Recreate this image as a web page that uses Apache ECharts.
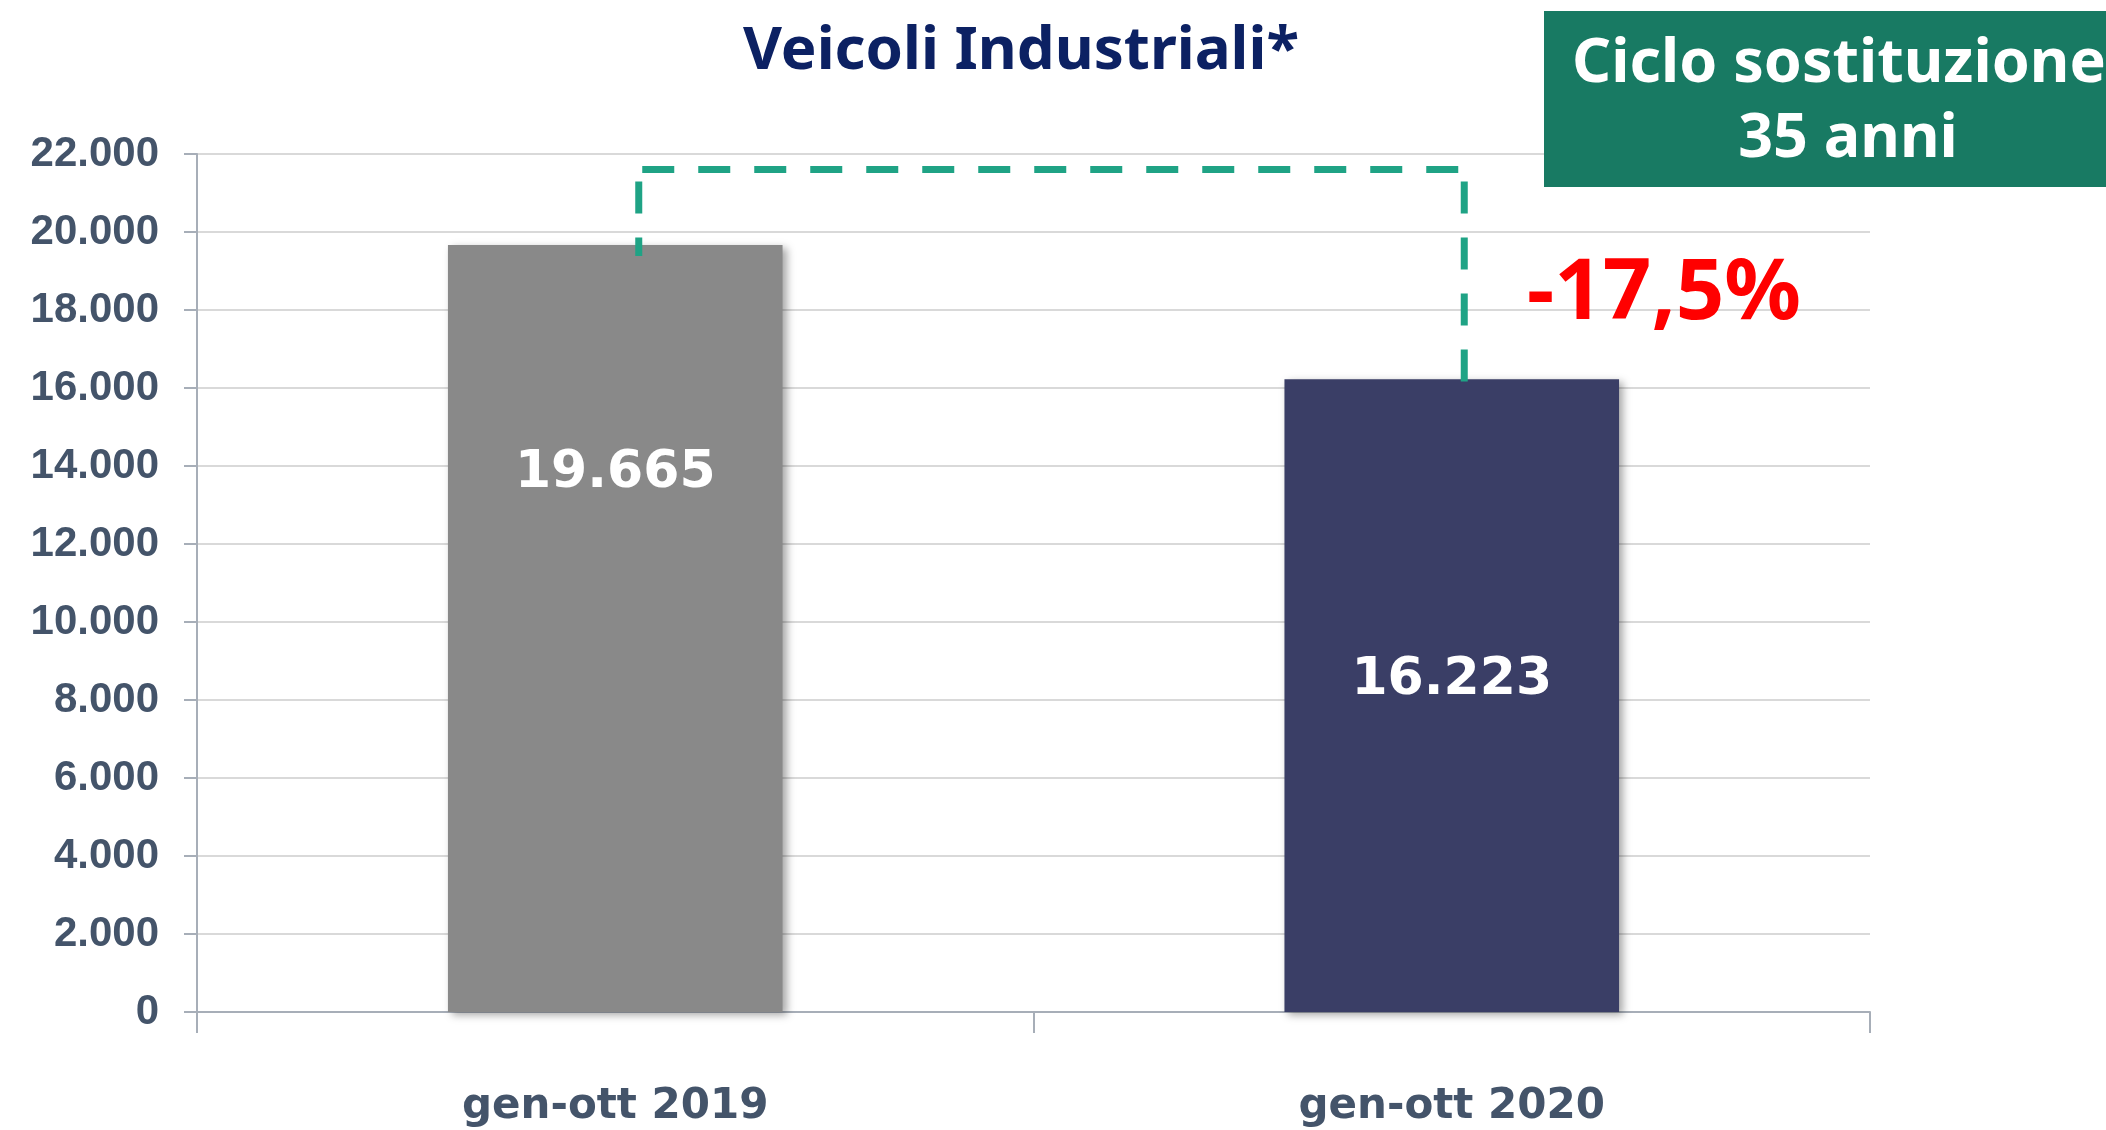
<!DOCTYPE html>
<html>
<head>
<meta charset="utf-8">
<script src="https://cdn.jsdelivr.net/npm/echarts@6/dist/echarts.min.js"></script>
<style>
html,body{margin:0;padding:0;background:#fff;}
#c{width:2106px;height:1130px;}
</style>
</head>
<body>
<div id="c"></div>
<script>
// ---- data ----
const categories = ['gen-ott 2019', 'gen-ott 2020'];
const values = [19665, 16223];
const yMin = 0, yMax = 22000, yStep = 2000;
const titleText = 'Veicoli Industriali*';
const variationText = '-17,5%';
const boxLines = ['Ciclo sostituzione', '35 anni'];
const bracketValue = 21600;

// ---- styles ----
const barColors = ['#898989', '#3a3e66'];
const labelOffsets = [-155, -15];
const axisTextColor = '#44546a';
const teal = '#1fa385';

function fmt(v) {
  return String(v).replace(/\B(?=(\d{3})+(?!\d))/g, '.');
}

const chart = echarts.init(document.getElementById('c'), null, {renderer: 'canvas'});

chart.setOption({
  animation: false,
  backgroundColor: '#ffffff',
  grid: {left: 197, right: 236, top: 154, bottom: 118, containLabel: false},
  xAxis: {
    type: 'category',
    data: categories,
    boundaryGap: true,
    axisLine: {show: true, lineStyle: {color: '#a7aeb8', width: 2}},
    axisTick: {show: true, length: 21, alignWithLabel: false, lineStyle: {color: '#a7aeb8', width: 2}},
    axisLabel: {
      margin: 74,
      color: axisTextColor,
      fontFamily: 'DejaVu Sans',
      fontWeight: 'bold',
      fontSize: 42,
      lineHeight: 42
    },
    splitLine: {show: false}
  },
  yAxis: {
    type: 'value',
    min: yMin, max: yMax, interval: yStep,
    axisLine: {show: true, lineStyle: {color: '#a7aeb8', width: 2}},
    axisTick: {show: true, length: 13, lineStyle: {color: '#a7aeb8', width: 2}},
    axisLabel: {
      margin: 38,
      color: axisTextColor,
      fontFamily: 'Liberation Sans',
      fontWeight: 'bold',
      fontSize: 42,
      lineHeight: 42,
      padding: [8, 0, 0, 0],
      formatter: v => fmt(v)
    },
    splitLine: {show: true, lineStyle: {color: '#d9d9d9', width: 2}}
  },
  series: [{
    type: 'bar',
    barWidth: '40%',
    z: 2,
    data: values.map((v, i) => ({
      value: v,
      itemStyle: {
        color: barColors[i],
        shadowColor: 'rgba(0,0,0,0.35)',
        shadowBlur: 8,
        shadowOffsetX: 4,
        shadowOffsetY: 3
      },
      label: {offset: [0, labelOffsets[i]]}
    })),
    label: {
      show: true,
      position: 'inside',
      color: '#ffffff',
      fontFamily: 'DejaVu Sans',
      fontWeight: 'bold',
      fontSize: 52,
      formatter: p => fmt(p.value)
    }
  }]
});

function drawGraphics() {
  const px = (i, v) => chart.convertToPixel({seriesIndex: 0}, [i, v]);
  const top = px(0, bracketValue)[1];
  const b0 = px(0, values[0]);
  const b1 = px(1, values[1]);
  const xL = b0[0] + 23.5;
  const xR = b1[0] + 12.5;
  const dash = {stroke: teal, lineWidth: 7, lineDash: [32, 24]};
  chart.setOption({
    graphic: [
      {type: 'line', z: 10, shape: {x1: xL + 3.5, y1: top, x2: xR - 5, y2: top}, style: dash},
      {type: 'line', z: 10, shape: {x1: xL, y1: top + 12, x2: xL, y2: b0[1] + 11}, style: dash},
      {type: 'line', z: 10, shape: {x1: xR, y1: top + 12, x2: xR, y2: b1[1] + 4}, style: dash},
      {type: 'text', z: 10, x: 1021, y: 52,
        style: {text: titleText, fill: '#0c2163', font: 'bold 60px "Noto Sans"', align: 'center', verticalAlign: 'middle'}},
      {type: 'text', z: 10, x: 1664, y: 295,
        style: {text: variationText, fill: '#ff0000', font: 'bold 85px "Noto Sans"', align: 'center', verticalAlign: 'middle'}},
      {type: 'rect', z: 5, shape: {x: 1544, y: 11, width: 562, height: 176}, style: {fill: '#187a63'}},
      {type: 'text', z: 10, x: 1839, y: 65,
        style: {text: boxLines[0], fill: '#ffffff', font: 'bold 61px "Noto Sans"', align: 'center', verticalAlign: 'middle'}},
      {type: 'text', z: 10, x: 1848, y: 140,
        style: {text: boxLines[1], fill: '#ffffff', font: 'bold 61px "Noto Sans"', align: 'center', verticalAlign: 'middle'}}
    ]
  });
}
drawGraphics();
</script>
</body>
</html>
